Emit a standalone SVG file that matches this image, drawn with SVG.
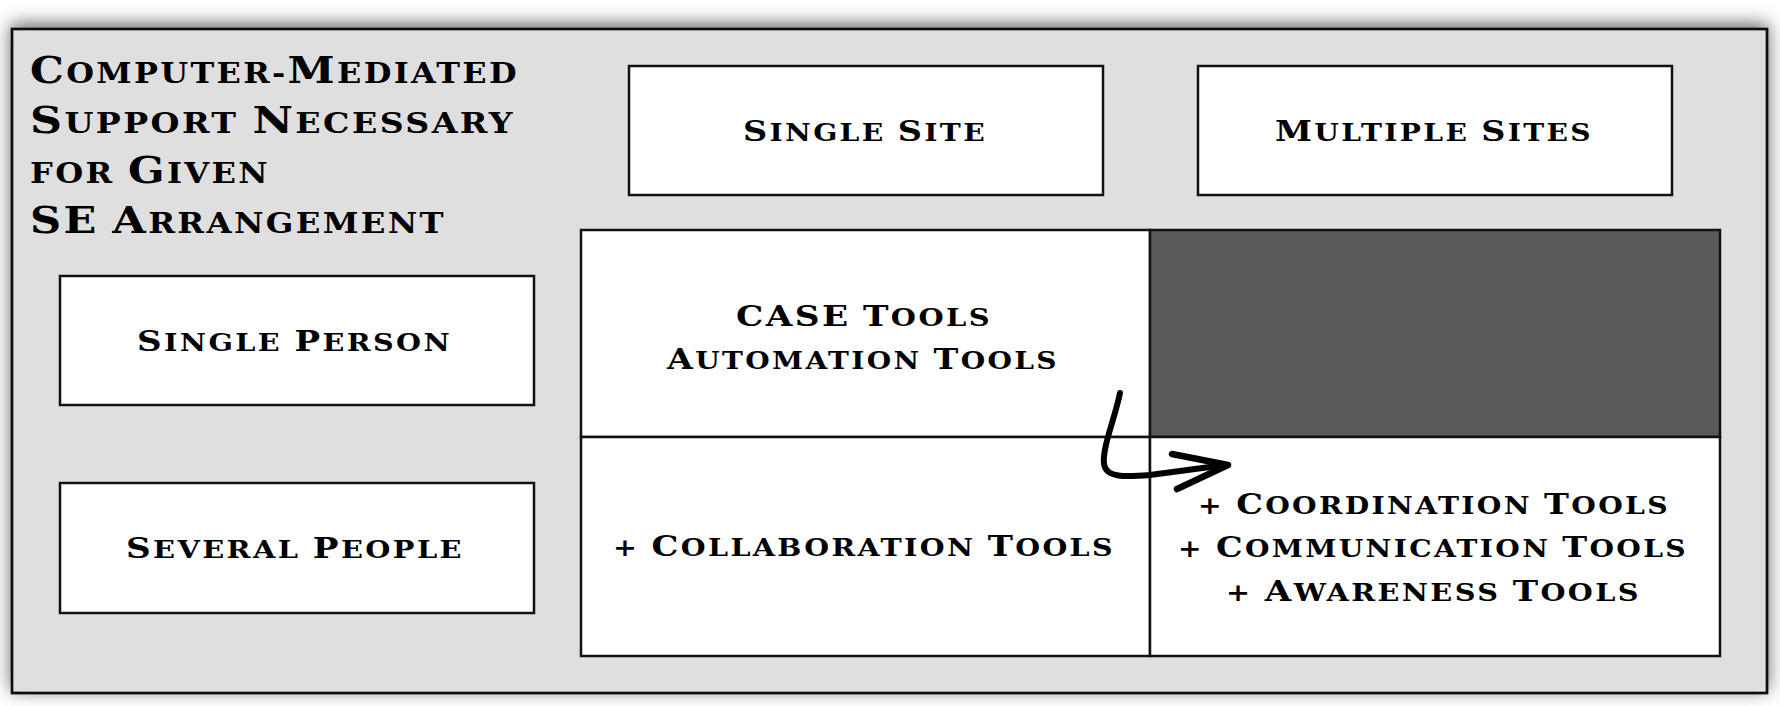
<svg xmlns="http://www.w3.org/2000/svg" width="1780" height="706" viewBox="0 0 1780 706">
<defs>
<filter id="sh" x="-5%" y="-15%" width="110%" height="130%">
<feDropShadow dx="0" dy="-4" stdDeviation="9" flood-color="#000" flood-opacity="0.6"/>
</filter>
<style>
.box{fill:#fff;stroke:#111;stroke-width:2.5}
.t{font-family:"DejaVu Serif","Liberation Serif",serif;font-weight:bold;font-size:24px;text-transform:uppercase;letter-spacing:2px;fill:#000}
.c{font-size:28.5px}
.tt{font-family:"DejaVu Serif","Liberation Serif",serif;font-weight:bold;font-size:27.4px;text-transform:uppercase;letter-spacing:2px;fill:#000}
.tc{font-size:36.6px}
.ln{fill:none;stroke:#000;stroke-linecap:round;stroke-linejoin:round}
</style>
</defs>
<rect width="1780" height="706" fill="#fff"/>
<g id="frame">
<rect x="12" y="29" width="1755" height="664" fill="#dfdfdf" stroke="#111" stroke-width="2.7" filter="url(#sh)"/>
</g>
<g id="title">
<text class="tt" x="30" y="83" textLength="489" lengthAdjust="spacingAndGlyphs"><tspan class="tc">C</tspan>omputer-<tspan class="tc">M</tspan>ediated</text>
<text class="tt" x="30" y="133" textLength="485" lengthAdjust="spacingAndGlyphs"><tspan class="tc">S</tspan>upport <tspan class="tc">N</tspan>ecessary</text>
<text class="tt" x="30" y="183" textLength="240" lengthAdjust="spacingAndGlyphs">for <tspan class="tc">G</tspan>iven</text>
<text class="tt" x="30" y="233" textLength="416" lengthAdjust="spacingAndGlyphs"><tspan class="tc">SE</tspan> <tspan class="tc">A</tspan>rrangement</text>
</g>
<g id="single-site">
<rect class="box" x="629" y="66" width="474" height="129"/>
<text class="t" x="743" y="141" textLength="244" lengthAdjust="spacingAndGlyphs"><tspan class="c">S</tspan>ingle <tspan class="c">S</tspan>ite</text>
</g>
<g id="multiple-sites">
<rect class="box" x="1198" y="66" width="474" height="129"/>
<text class="t" x="1275" y="141" textLength="318" lengthAdjust="spacingAndGlyphs"><tspan class="c">M</tspan>ultiple <tspan class="c">S</tspan>ites</text>
</g>
<g id="single-person">
<rect class="box" x="60" y="276" width="474" height="129"/>
<text class="t" x="137" y="351" textLength="315" lengthAdjust="spacingAndGlyphs"><tspan class="c">S</tspan>ingle <tspan class="c">P</tspan>erson</text>
</g>
<g id="several-people">
<rect class="box" x="60" y="483" width="474" height="130"/>
<text class="t" x="126" y="558" textLength="338" lengthAdjust="spacingAndGlyphs"><tspan class="c">S</tspan>everal <tspan class="c">P</tspan>eople</text>
</g>
<g id="cell-single-single">
<rect class="box" x="581" y="230" width="569" height="207"/>
<text class="t" x="736" y="326" textLength="256" lengthAdjust="spacingAndGlyphs"><tspan class="c">CASE</tspan> <tspan class="c">T</tspan>ools</text>
<text class="t" x="667" y="369" textLength="392" lengthAdjust="spacingAndGlyphs"><tspan class="c">A</tspan>utomation <tspan class="c">T</tspan>ools</text>
</g>
<g id="cell-single-multiple">
<rect x="1150" y="230" width="570" height="207" fill="#595959" stroke="#111" stroke-width="2.5"/>
</g>
<g id="cell-several-single">
<rect class="box" x="581" y="437" width="569" height="219"/>
<text class="t" x="613" y="556" textLength="502" lengthAdjust="spacingAndGlyphs">+ <tspan class="c">C</tspan>ollaboration <tspan class="c">T</tspan>ools</text>
</g>
<g id="cell-several-multiple">
<rect class="box" x="1150" y="437" width="570" height="219"/>
<text class="t" x="1198" y="514" textLength="472" lengthAdjust="spacingAndGlyphs">+ <tspan class="c">C</tspan>oordination <tspan class="c">T</tspan>ools</text>
<text class="t" x="1178" y="557" textLength="510" lengthAdjust="spacingAndGlyphs">+ <tspan class="c">C</tspan>ommunication <tspan class="c">T</tspan>ools</text>
<text class="t" x="1226" y="601" textLength="415" lengthAdjust="spacingAndGlyphs">+ <tspan class="c">A</tspan>wareness <tspan class="c">T</tspan>ools</text>
</g>
<g id="connectors">
<path class="ln" stroke-width="6" d="M1120,393 C1115,418 1102,448 1104,464 C1106,478 1125,477 1150,475 L1225,465"/>
<path class="ln" stroke-width="6.5" d="M1172,454 L1228,465 L1177,489"/>
</g>
</svg>
